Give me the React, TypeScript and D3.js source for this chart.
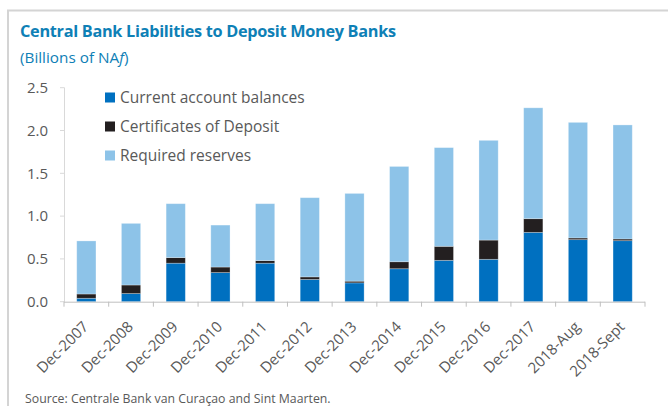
import React from 'react';
import * as d3 from 'd3';

const categories = ['Dec-2007','Dec-2008','Dec-2009','Dec-2010','Dec-2011','Dec-2012','Dec-2013','Dec-2014','Dec-2015','Dec-2016','Dec-2017','2018-Aug','2018-Sept'];
const currentAccount = [0.04, 0.095, 0.45, 0.34, 0.45, 0.26, 0.22, 0.385, 0.483, 0.495, 0.81, 0.725, 0.713];
const certificates = [0.05, 0.10, 0.065, 0.065, 0.03, 0.03, 0.02, 0.082, 0.164, 0.225, 0.16, 0.02, 0.02];
const requiredReserves = [0.62, 0.72, 0.63, 0.49, 0.665, 0.925, 1.025, 1.113, 1.153, 1.165, 1.295, 1.35, 1.332];
const yTicks = [0, 0.5, 1.0, 1.5, 2.0, 2.5];
const seriesKeys = ['current', 'cds', 'reserves'];
const seriesNames = ['Current account balances', 'Certificates of Deposit', 'Required reserves'];
const seriesColors = ['#0070c0', '#231f20', '#8dc3e8'];

const FONT = '"Open Sans", "Noto Sans", sans-serif';
const GREY = '#595959';

export default function App() {
  const rows = categories.map((c, i) => ({
    cat: c,
    current: currentAccount[i],
    cds: certificates[i],
    reserves: requiredReserves[i],
  }));
  const stacked = d3.stack<any>().keys(seriesKeys)(rows);

  const x = d3.scaleBand<string>().domain(categories).range([64, 645]).paddingInner(0.57).paddingOuter(0.285);
  const y = d3.scaleLinear().domain([0, 2.5]).range([301.7, 87.7]);
  const step = x.step();
  const y0 = y(0);

  return (
    <div style={{ position: 'absolute', left: 0, top: 0 }}>
      <svg width={668} height={406} style={{ display: 'block', fontFamily: FONT }}>
        <rect x={0} y={0} width={668} height={406} fill="#ffffff" />
        <rect x={8} y={10.5} width={700} height={430} fill="none" stroke="#d4d4d4" strokeWidth={2} />
        <text x={20} y={37} fill="#0e80b6" fontSize={16.3} fontWeight={700} letterSpacing={-0.3}>
          Central Bank Liabilities to Deposit Money Banks
        </text>
        <text x={20} y={63} fill="#0e80b6" fontSize={15.3}>
          (Billions of NA<tspan fontStyle="italic">f</tspan>)
        </text>

        {/* y axis */}
        <line x1={64.5} x2={64.5} y1={y(2.5)} y2={y0} stroke="#d9d9d9" />
        {yTicks.map((t) => (
          <g key={t}>
            <line x1={60} x2={64.5} y1={y(t)} y2={y(t)} stroke="#d9d9d9" />
            <text x={48} y={y(t)} dy="0.35em" textAnchor="end" fill={GREY} fontSize={15}>
              {d3.format('.1f')(t)}
            </text>
          </g>
        ))}

        {/* bars */}
        {stacked.map((s, si) => (
          <g key={s.key} fill={seriesColors[si]}>
            {s.map((d: any, i: number) => (
              <rect
                key={i}
                x={x(categories[i])}
                y={y(d[1])}
                width={x.bandwidth()}
                height={Math.max(0, y(d[0]) - y(d[1]))}
                stroke="#ffffff"
                strokeOpacity={0.35}
                strokeWidth={0.8}
              />
            ))}
          </g>
        ))}

        {/* x axis */}
        <line x1={64} x2={645} y1={y0 + 0.5} y2={y0 + 0.5} stroke="#bfbfbf" />
        {d3.range(categories.length + 1).map((i) => (
          <line key={i} x1={64 + i * step} x2={64 + i * step} y1={y0} y2={y0 + 5} stroke="#bfbfbf" />
        ))}
        {categories.map((c) => {
          const cx = (x(c) as number) + x.bandwidth() / 2 + 3;
          const cy = y0 + 26;
          return (
            <text key={c} transform={`translate(${cx},${cy}) rotate(-45)`} textAnchor="end" fill={GREY} fontSize={15}>
              {c}
            </text>
          );
        })}

        {/* legend */}
        {seriesNames.map((n, i) => (
          <g key={n} transform={`translate(105,${98 + i * 29})`}>
            <rect x={0} y={-5.5} width={10} height={10} fill={seriesColors[i]} />
            <text x={15} y={0} dy="0.35em" fill={GREY} fontSize={15.5}>{n}</text>
          </g>
        ))}

        <text x={25} y={403} fill={GREY} fontSize={12.3}>
          Source: Centrale Bank van Curaçao and Sint Maarten.
        </text>
      </svg>
    </div>
  );
}
